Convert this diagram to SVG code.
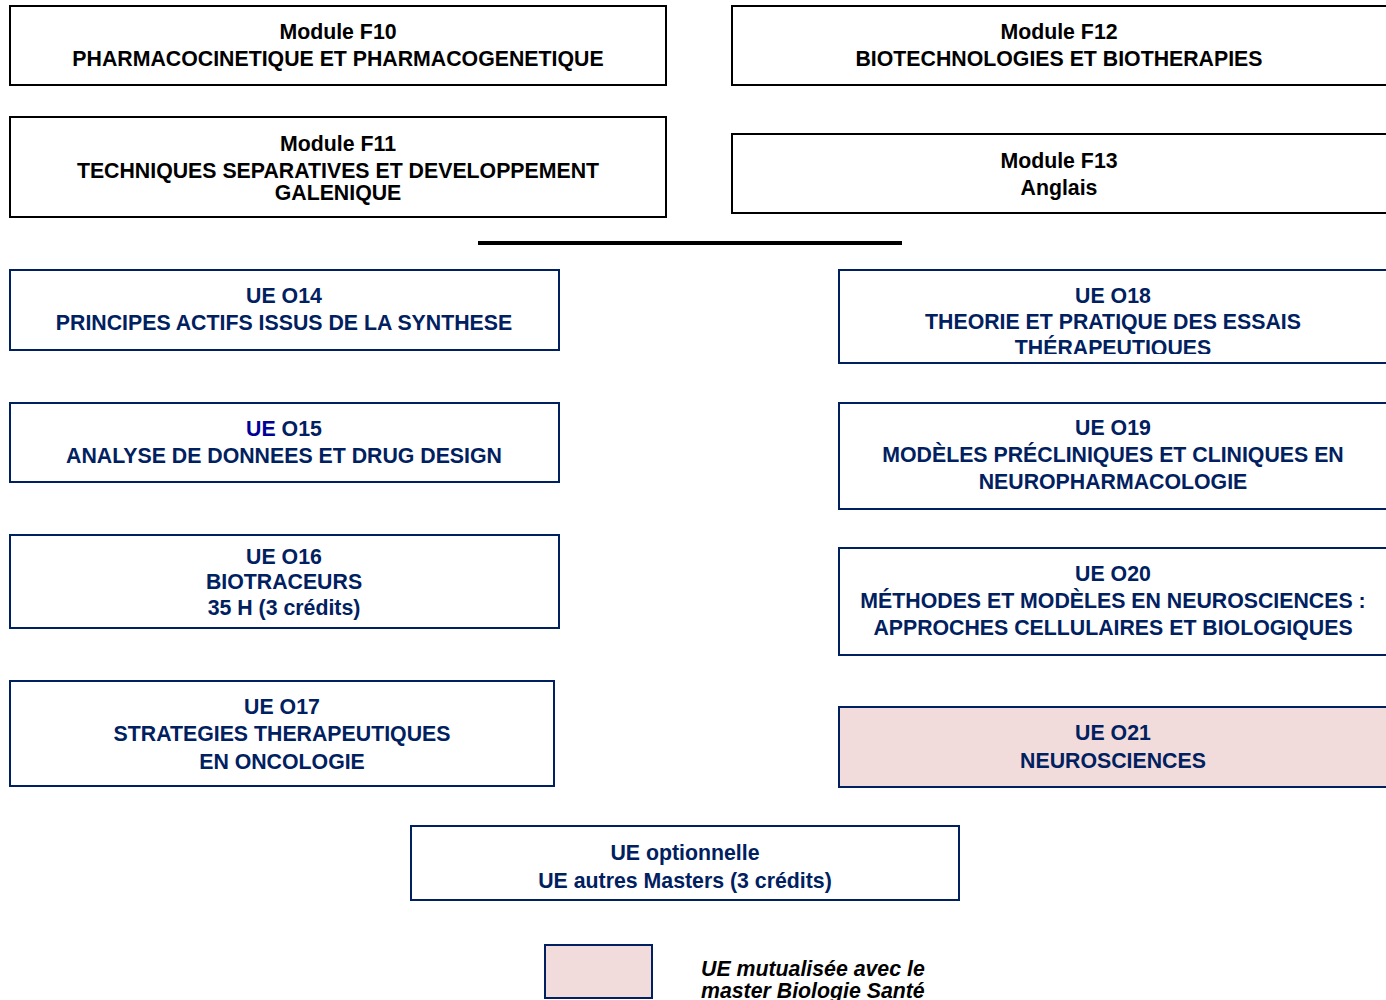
<svg xmlns="http://www.w3.org/2000/svg" width="1386" height="1000" viewBox="0 0 1386 1000">
<defs>
<style>
.mod rect{fill:#fff;stroke:#000;stroke-width:2}
.ue rect{fill:#fff;stroke:#002060;stroke-width:2}
.ue rect.mut{fill:#f2dcdb}
text{font-family:"Liberation Sans",Arial,sans-serif;font-weight:bold;font-size:21.3px;text-anchor:middle}
.mod text{fill:#000}
.ue text{fill:#002060}
.ue text.leg{font-style:italic;text-anchor:start;fill:#000}
</style>
<clipPath id="c18"><rect x="840" y="271" width="546" height="83"/></clipPath>
</defs>
<rect x="0" y="0" width="1386" height="1000" fill="#fff"/>
<g id="F10" class="mod"><rect x="10" y="6" width="656" height="79"/><text x="338" y="39">Module F10</text><text x="338" y="66">PHARMACOCINETIQUE ET PHARMACOGENETIQUE</text></g>
<g id="F12" class="mod"><rect x="732" y="6" width="660" height="79"/><text x="1059" y="39">Module F12</text><text x="1059" y="66">BIOTECHNOLOGIES ET BIOTHERAPIES</text></g>
<g id="F11" class="mod"><rect x="10" y="117" width="656" height="100"/><text x="338" y="151">Module F11</text><text x="338" y="178">TECHNIQUES SEPARATIVES ET DEVELOPPEMENT</text><text x="338" y="200">GALENIQUE</text></g>
<g id="F13" class="mod"><rect x="732" y="134" width="660" height="79"/><text x="1059" y="168">Module F13</text><text x="1059" y="195">Anglais</text></g>
<g id="connectors"><line x1="478" y1="243" x2="902" y2="243" stroke="#000" stroke-width="4"/></g>
<g id="O14" class="ue"><rect x="10" y="270" width="549" height="80"/><text x="284" y="303">UE O14</text><text x="284" y="330">PRINCIPES ACTIFS ISSUS DE LA SYNTHESE</text></g>
<g id="O18" class="ue"><rect x="839" y="270" width="553" height="93"/><g clip-path="url(#c18)"><text x="1113" y="303">UE O18</text><text x="1113" y="329">THEORIE ET PRATIQUE DES ESSAIS</text><text x="1113" y="355">THÉRAPEUTIQUES</text></g></g>
<g id="O15" class="ue"><rect x="10" y="403" width="549" height="79"/><text x="284" y="436"><tspan fill="#000099">UE</tspan> O15</text><text x="284" y="463">ANALYSE DE DONNEES ET DRUG DESIGN</text></g>
<g id="O19" class="ue"><rect x="839" y="403" width="553" height="106"/><text x="1113" y="435">UE O19</text><text x="1113" y="462">MODÈLES PRÉCLINIQUES ET CLINIQUES EN</text><text x="1113" y="489">NEUROPHARMACOLOGIE</text></g>
<g id="O16" class="ue"><rect x="10" y="535" width="549" height="93"/><text x="284" y="564">UE O16</text><text x="284" y="589">BIOTRACEURS</text><text x="284" y="615">35 H (3 crédits)</text></g>
<g id="O20" class="ue"><rect x="839" y="548" width="553" height="107"/><text x="1113" y="581">UE O20</text><text x="1113" y="608">MÉTHODES ET MODÈLES EN NEUROSCIENCES :</text><text x="1113" y="635">APPROCHES CELLULAIRES ET BIOLOGIQUES</text></g>
<g id="O17" class="ue"><rect x="10" y="681" width="544" height="105"/><text x="282" y="714">UE O17</text><text x="282" y="741">STRATEGIES THERAPEUTIQUES</text><text x="282" y="769">EN ONCOLOGIE</text></g>
<g id="O21" class="ue"><rect class="mut" x="839" y="707" width="553" height="80"/><text x="1113" y="740">UE O21</text><text x="1113" y="768">NEUROSCIENCES</text></g>
<g id="OPT" class="ue"><rect x="411" y="826" width="548" height="74"/><text x="685" y="860">UE optionnelle</text><text x="685" y="888">UE autres Masters (3 crédits)</text></g>
<g id="legend" class="ue"><rect class="mut" x="545" y="945" width="107" height="53"/><text class="leg" x="701" y="976">UE mutualisée avec le</text><text class="leg" x="701" y="998">master Biologie Santé</text></g>
</svg>
